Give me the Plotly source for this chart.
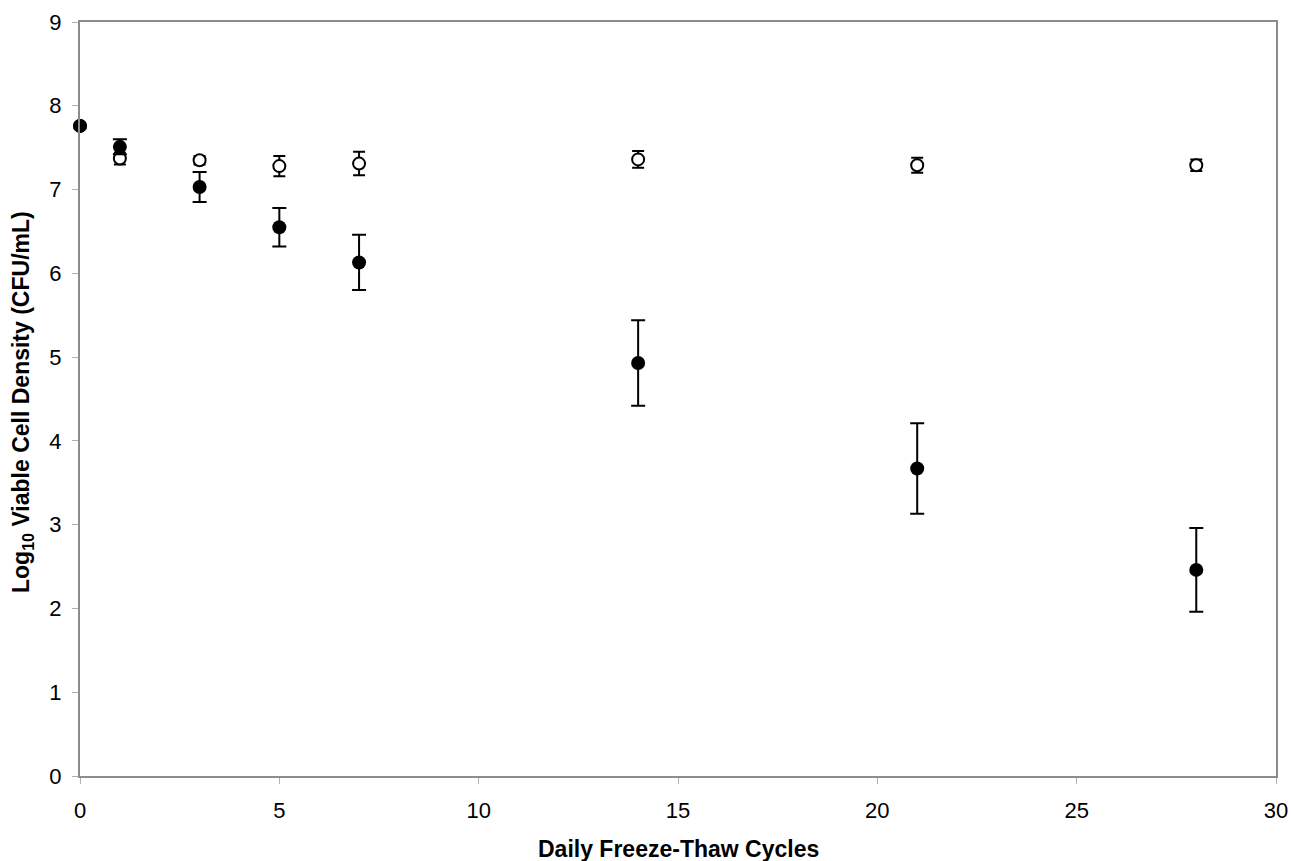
import plotly.graph_objects as go

cycles = [0, 1, 3, 5, 7, 14, 21, 28]
open_mean = [7.76, 7.37, 7.35, 7.28, 7.31, 7.36, 7.29, 7.29]
open_err = [0.0, 0.07, 0.05, 0.12, 0.14, 0.10, 0.09, 0.07]
filled_mean = [7.76, 7.51, 7.03, 6.55, 6.13, 4.93, 3.67, 2.46]
filled_err = [0.0, 0.09, 0.18, 0.23, 0.33, 0.51, 0.54, 0.50]

x_ticks = [0, 5, 10, 15, 20, 25, 30]
y_ticks = [0, 1, 2, 3, 4, 5, 6, 7, 8, 9]

FONT = "Liberation Sans, Arial, sans-serif"

fig = go.Figure()
fig.add_trace(go.Scatter(
    x=cycles, y=open_mean, mode="markers",
    marker=dict(symbol="circle", size=12, color="white",
                line=dict(color="black", width=2)),
    error_y=dict(type="data", array=open_err, visible=True,
                 color="black", thickness=2, width=6),
    showlegend=False, cliponaxis=False))
fig.add_trace(go.Scatter(
    x=cycles, y=filled_mean, mode="markers",
    marker=dict(symbol="circle", size=14, color="black",
                line=dict(color="black", width=0)),
    error_y=dict(type="data", array=filled_err, visible=True,
                 color="black", thickness=2, width=7),
    showlegend=False, cliponaxis=False))

axis_common = dict(
    showline=True, linecolor="#8c8c8c", linewidth=2, mirror=True,
    showgrid=False, zeroline=False, automargin=False,
    ticks="outside", ticklen=6, tickcolor="#b0b0b0", tickwidth=1,
    tickfont=dict(family=FONT, size=22, color="black"),
)

fig.update_xaxes(range=[0, 30], tickvals=x_ticks, ticktext=[str(v) for v in x_ticks],
                 ticklabelstandoff=8, **axis_common)
fig.update_yaxes(range=[0, 9], tickvals=y_ticks, ticktext=[str(v) for v in y_ticks],
                 ticklabelstandoff=6, **axis_common)

fig.add_annotation(text="<b>Daily Freeze-Thaw Cycles</b>", xref="paper", yref="paper",
                   x=0.5, y=-0.097, xanchor="center", yanchor="middle", showarrow=False,
                   font=dict(family=FONT, size=23, color="black"))
fig.add_annotation(text="<b>Log<sub>10</sub> Viable Cell Density (CFU/mL)</b>",
                   xref="paper", yref="paper", x=-0.0485, y=0.496, textangle=-90,
                   xanchor="center", yanchor="middle", showarrow=False,
                   font=dict(family=FONT, size=23, color="black"))

fig.update_layout(
    width=1291, height=861,
    margin=dict(l=80, r=15, t=22, b=85),
    paper_bgcolor="white", plot_bgcolor="white",
)

fig.write_html(
    "out.html",
    config={"displayModeBar": False},
    post_script="document.body.style.margin='0';document.documentElement.style.overflow='hidden';document.body.style.overflow='hidden';",
)
